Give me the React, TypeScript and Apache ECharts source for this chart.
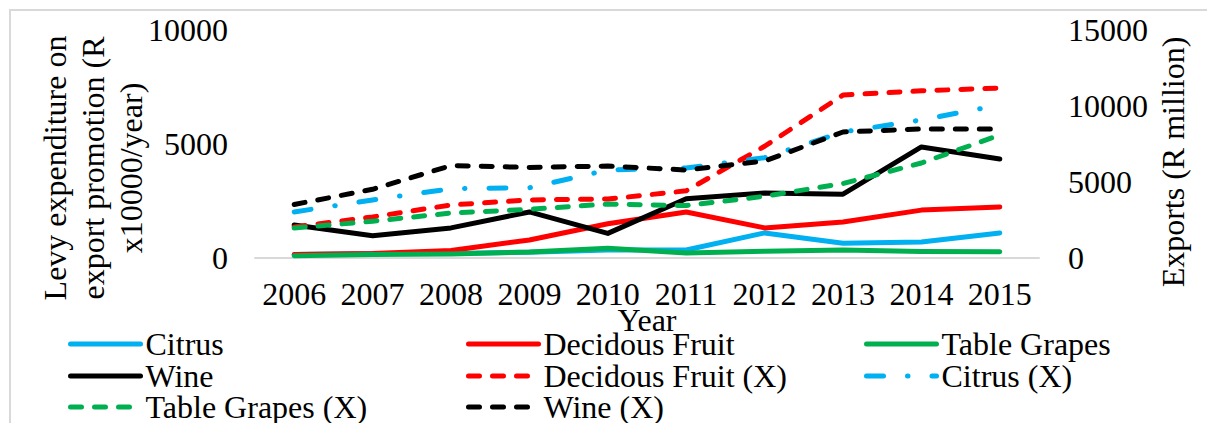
import React, { useEffect, useRef } from "react";
import * as echarts from "echarts";

const years = ["2006", "2007", "2008", "2009", "2010", "2011", "2012", "2013", "2014", "2015"];

// Levy expenditure (left axis, R x10000/year)
const citrus = [150, 200, 200, 250, 350, 350, 1100, 650, 700, 1100];
const deciduous = [150, 200, 330, 790, 1500, 2020, 1320, 1580, 2100, 2240];
const tableGrapes = [100, 150, 180, 260, 430, 220, 300, 350, 280, 270];
const wine = [1450, 980, 1320, 2020, 1080, 2600, 2850, 2800, 4870, 4340];

// Exports (right axis, R million)
const deciduousX = [2040, 2700, 3490, 3820, 3880, 4420, 7350, 10720, 11000, 11180];
const citrusX = [3030, 3820, 4560, 4620, 5790, 5920, 6600, 8290, 9080, 10070];
const tableGrapesX = [1970, 2420, 2960, 3200, 3550, 3450, 4060, 4900, 6250, 8090];
const wineX = [3520, 4520, 6080, 5960, 6050, 5790, 6380, 8290, 8490, 8490];

const leftTicks = { min: 0, max: 10000, interval: 5000 };
const rightTicks = { min: 0, max: 15000, interval: 5000 };

// legend layout: [name, left, top]
const legendItems: [string, number, number][] = [
  ["Citrus", 68, 328],
  ["Decidous Fruit", 466, 328],
  ["Table Grapes", 864, 328],
  ["Wine", 68, 360],
  ["Decidous Fruit (X)", 466, 360],
  ["Citrus (X)", 864, 360],
  ["Table Grapes (X)", 68, 391],
  ["Wine (X)", 466, 391],
];

const FONT = "Liberation Serif";
const BLUE = "#00B0F0";
const RED = "#FF0000";
const GREEN = "#00B050";
const BLACK = "#000000";

export default function App() {
  const ref = useRef<HTMLDivElement>(null);
  useEffect(() => {
    if (!ref.current) return;
    const chart = echarts.init(ref.current, null, { renderer: "svg" });
    const solid = (name: string, data: number[], color: string) => ({
      name,
      type: "line",
      yAxisIndex: 0,
      data,
      symbol: "none",
      showSymbol: false,
      itemStyle: { color: "rgba(0,0,0,0)" },
      lineStyle: { color, width: 5, cap: "round", join: "round" },
    });
    const dashed = (name: string, data: number[], color: string, dash: number[]) => ({
      name,
      type: "line",
      yAxisIndex: 1,
      data,
      symbol: "none",
      showSymbol: false,
      itemStyle: { color: "rgba(0,0,0,0)" },
      lineStyle: { color, width: 5, type: dash, cap: "round", join: "round" },
    });
    const legends = legendItems.map(([name, left, top]) => ({
      orient: "horizontal",
      left,
      top,
      itemWidth: 70,
      itemHeight: 14,
      itemGap: 0,
      padding: 0,
      data: [name],
      itemStyle: { color: "rgba(0,0,0,0)", borderColor: "rgba(0,0,0,0)", borderWidth: 0 },
      lineStyle: { width: 5, cap: "round" },
      textStyle: { fontFamily: FONT, fontSize: 32, color: "#000", lineHeight: 28 },
    }));
    const fmt = (v: number) => String(v);
    chart.setOption({
      animation: false,
      backgroundColor: "#fff",
      grid: { left: 255, right: 168, top: 30, bottom: 165 },
      graphic: [
        {
          type: "rect",
          shape: { x: 10, y: 10, width: 1300, height: 500 },
          style: { fill: "none", stroke: "#d9d9d9", lineWidth: 2 },
          silent: true,
        },
        {
          type: "text",
          x: 93,
          y: 168,
          rotation: Math.PI / 2,
          style: {
            text: "Levy expenditure on\nexport promotion (R\nx10000/year)",
            fontFamily: FONT,
            fontSize: 32,
            lineHeight: 38,
            fill: "#000",
            align: "center",
            verticalAlign: "middle",
          },
        },
        {
          type: "text",
          x: 1173,
          y: 162,
          rotation: Math.PI / 2,
          style: {
            text: "Exports (R million)",
            fontFamily: FONT,
            fontSize: 32,
            fill: "#000",
            align: "center",
            verticalAlign: "middle",
          },
        },
      ],
      legend: legends,
      xAxis: {
        type: "category",
        data: years,
        boundaryGap: true,
        axisLine: { lineStyle: { color: "#d9d9d9", width: 2 } },
        axisTick: { show: false },
        axisLabel: { interval: 0, fontFamily: FONT, fontSize: 32, color: "#000", margin: 20 },
        name: "Year",
        nameLocation: "middle",
        nameGap: 46,
        nameMoveOverlap: false,
        nameTextStyle: { fontFamily: FONT, fontSize: 32, color: "#000", lineHeight: 32 },
        splitLine: { show: false },
      },
      yAxis: [
        {
          type: "value",
          ...leftTicks,
          position: "left",
          axisLine: { show: false },
          axisTick: { show: false },
          splitLine: { show: false },
          axisLabel: { fontFamily: FONT, fontSize: 32, color: "#000", margin: 27, formatter: fmt },
        },
        {
          type: "value",
          ...rightTicks,
          position: "right",
          axisLine: { show: false },
          axisTick: { show: false },
          splitLine: { show: false },
          axisLabel: { fontFamily: FONT, fontSize: 32, color: "#000", margin: 29, formatter: fmt },
        },
      ],
      series: [
        solid("Citrus", citrus, BLUE),
        solid("Decidous Fruit", deciduous, RED),
        solid("Table Grapes", tableGrapes, GREEN),
        solid("Wine", wine, BLACK),
        dashed("Decidous Fruit (X)", deciduousX, RED, [11, 13]),
        dashed("Citrus (X)", citrusX, BLUE, [17, 24, 0.5, 24]),
        dashed("Table Grapes (X)", tableGrapesX, GREEN, [11, 13]),
        dashed("Wine (X)", wineX, BLACK, [11, 13]),
      ],
    });
    return () => chart.dispose();
  }, []);
  return (
    <div
      ref={ref}
      style={{ position: "absolute", left: 0, top: 0, width: 1207, height: 423 }}
    />
  );
}
